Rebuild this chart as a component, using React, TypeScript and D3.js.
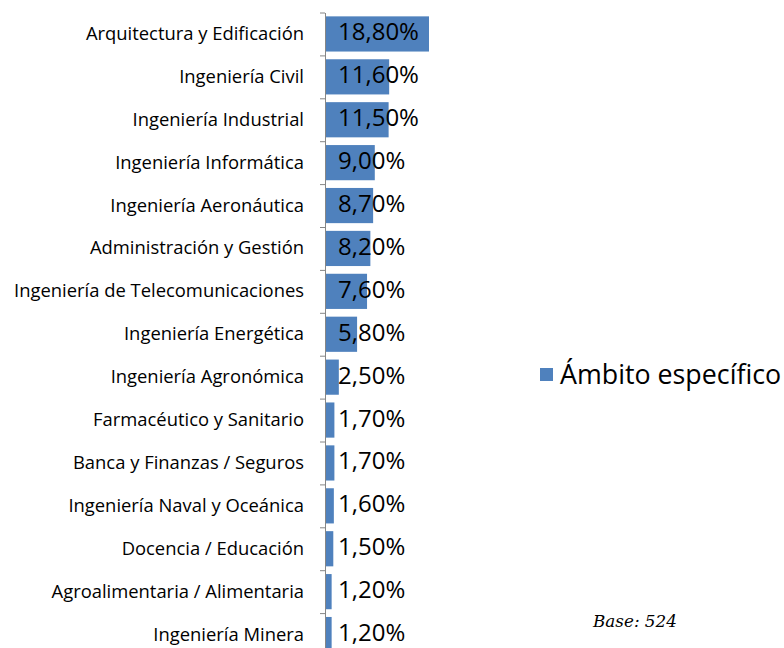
import * as React from 'react';
import * as d3 from 'd3';

const categories = [
  'Arquitectura y Edificación',
  'Ingeniería Civil',
  'Ingeniería Industrial',
  'Ingeniería Informática',
  'Ingeniería Aeronáutica',
  'Administración y Gestión',
  'Ingeniería de Telecomunicaciones',
  'Ingeniería Energética',
  'Ingeniería Agronómica',
  'Farmacéutico y Sanitario',
  'Banca y Finanzas / Seguros',
  'Ingeniería Naval y Oceánica',
  'Docencia / Educación',
  'Agroalimentaria / Alimentaria',
  'Ingeniería Minera',
];
const values = [18.8, 11.6, 11.5, 9.0, 8.7, 8.2, 7.6, 5.8, 2.5, 1.7, 1.7, 1.6, 1.5, 1.2, 1.2];
const seriesName = 'Ámbito específico';
const baseNote = 'Base: 524';

const W = 784;
const H = 648;
const FONT = '"Open Sans", sans-serif';
const BAR = '#4F81BD';

const App: React.FC = () => {
  const axisX = 325;
  const x = d3.scaleLinear().domain([0, 18.8]).range([axisX, 429]);
  const y = d3.scaleBand<string>().domain(categories).range([12.5, 656]).paddingInner(0.18).paddingOuter(0.09);
  const step = y.step();
  const fmt = (v: number) => v.toFixed(2).replace('.', ',') + '%';

  return (
    <svg width={W} height={H} style={{ position: 'absolute', left: 0, top: 0, background: '#fff' }}>
      {categories.map((c, i) => (
        <g key={c}>
          <rect x={axisX + 1} y={y(c)!} width={x(values[i]) - axisX - 1} height={y.bandwidth()} fill={BAR} />
          <text x={304} y={y(c)! + y.bandwidth() / 2 - 1.5} textAnchor="end" dominantBaseline="central"
            fontFamily={FONT} fontSize={18.4} fill="#000">{c}</text>
          <text x={338} y={y(c)! + y.bandwidth() / 2 - 3} dominantBaseline="central"
            fontFamily={FONT} fontSize={24} fill="#000">{fmt(values[i])}</text>
        </g>
      ))}
      <line x1={axisX + 0.5} x2={axisX + 0.5} y1={13} y2={648} stroke="#868686" strokeWidth={1} />
      {d3.range(categories.length + 1).map(k => (
        <line key={k} x1={axisX - 5} x2={axisX} y1={12.5 + k * step + 0.5} y2={12.5 + k * step + 0.5}
          stroke="#868686" strokeWidth={1} />
      ))}
      <rect x={540} y={368} width={13} height={13} fill={BAR} />
      <text x={560} y={373} dominantBaseline="central" fontFamily={FONT} fontSize={26.8} fill="#000">{seriesName}</text>
      <text x={593} y={627} fontFamily='"DejaVu Serif", serif' fontStyle="italic" fontSize={16.8} fill="#000">{baseNote}</text>
    </svg>
  );
};

export default App;
